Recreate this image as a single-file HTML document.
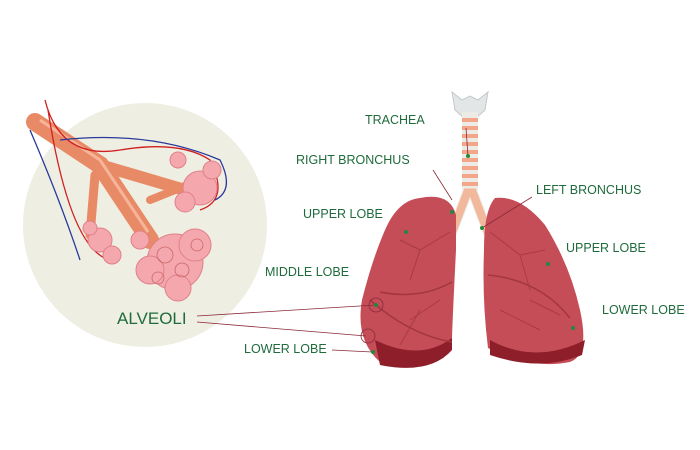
<!DOCTYPE html>
<html><head><meta charset="utf-8"><style>
html,body{margin:0;padding:0;background:#fff;}
svg{display:block;}
text{font-family:"Liberation Sans",sans-serif;fill:#1f6b3c;}
</style></head><body>
<svg width="700" height="450" viewBox="0 0 700 450" xmlns="http://www.w3.org/2000/svg">
<rect width="700" height="450" fill="#fff"/>
<circle cx="145" cy="225" r="122" fill="#efeee3"/>
<g stroke="#e98a66" stroke-linecap="round" fill="none">
<path d="M35 122 L100 165 L150 240" stroke-width="18"/>
<path d="M100 165 L185 190" stroke-width="12"/>
<path d="M95 175 L90 235" stroke-width="9"/>
<path d="M150 200 L205 178" stroke-width="8"/>
</g>
<g stroke="#f6b49a" stroke-width="3" fill="none">
<path d="M40 120 L100 160 L148 232"/>
</g>
<g fill="none" stroke-width="1.3">
<path d="M45 100 Q60 160 120 150 T210 160 Q230 200 200 210" stroke="#d02020"/>
<path d="M48 110 Q70 250 110 260" stroke="#d02020"/>
<path d="M30 130 Q60 200 80 260" stroke="#2a3a9a"/>
<path d="M60 140 Q150 130 220 160 Q235 190 215 200" stroke="#2a3a9a"/>
</g>
<g fill="#f4a8ae" stroke="#e07f88" stroke-width="1">
<circle cx="175" cy="262" r="28"/><circle cx="195" cy="245" r="16"/><circle cx="150" cy="270" r="14"/><circle cx="178" cy="288" r="13"/>
<circle cx="200" cy="188" r="17"/><circle cx="185" cy="202" r="10"/><circle cx="178" cy="160" r="8"/><circle cx="212" cy="170" r="9"/>
<circle cx="100" cy="240" r="12"/><circle cx="112" cy="255" r="9"/><circle cx="90" cy="228" r="7"/>
<circle cx="140" cy="240" r="9"/>
</g>
<g fill="none" stroke="#c66" stroke-width="0.8">
<circle cx="165" cy="255" r="8"/><circle cx="182" cy="270" r="7"/><circle cx="197" cy="245" r="6"/><circle cx="158" cy="278" r="6"/>
</g>
<path d="M452 92 L462 100 L470 96 L478 100 L488 92 L485 110 L476 118 L464 118 L455 110 Z" fill="#e3e6e6" stroke="#c4c9c9"/>
<rect x="462" y="112" width="16" height="78" fill="#ecebe6"/>
<g stroke="#f2a68a" stroke-width="4">
<line x1="462" y1="120" x2="478" y2="120"/><line x1="462" y1="128" x2="478" y2="128"/><line x1="462" y1="136" x2="478" y2="136"/><line x1="462" y1="144" x2="478" y2="144"/><line x1="462" y1="152" x2="478" y2="152"/><line x1="462" y1="160" x2="478" y2="160"/><line x1="462" y1="168" x2="478" y2="168"/><line x1="462" y1="176" x2="478" y2="176"/><line x1="462" y1="184" x2="478" y2="184"/>
</g>
<path d="M464 188 L446 236 L454 240 L470 198 L486 240 L494 236 L476 188 Z" fill="#f2b89c" stroke="#ecebe6"/>
<path d="M420 198 Q450 192 456 215 L456 250 Q452 330 452 340 Q430 372 380 362 Q355 340 362 300 Q372 260 385 230 Q398 200 420 198 Z" fill="#c44d58"/>
<path d="M375 340 Q420 362 452 338 L452 350 Q430 375 380 365 Z" fill="#8d1e2a"/>
<path d="M380 292 Q420 300 452 282 M370 300 Q410 335 452 342" stroke="#a33640" stroke-width="1.5" fill="none"/>
<path d="M495 198 Q520 195 545 225 Q570 265 580 310 Q590 355 570 362 Q530 370 488 348 Q482 300 484 250 Q484 210 495 198 Z" fill="#c44d58"/>
<path d="M490 340 Q535 365 585 340 L582 355 Q540 372 490 355 Z" fill="#8d1e2a"/>
<path d="M488 275 Q540 280 570 318" stroke="#a33640" stroke-width="1.5" fill="none"/>
<g stroke="#a33640" stroke-width="1" fill="none" opacity="0.8">
<path d="M450 232 L420 250 L400 240 M420 250 L410 280 M440 300 L410 320 M420 310 L400 345"/>
<path d="M490 232 L520 255 L545 250 M520 255 L530 290 M500 310 L540 330 M530 300 L560 315"/>
</g>
<g stroke="#8a2a3a" stroke-width="0.8" fill="none">
<line x1="197" y1="316" x2="376" y2="305"/>
<line x1="197" y1="322" x2="366" y2="336"/>
<line x1="332" y1="350" x2="372" y2="352"/>
<circle cx="376" cy="305" r="7"/><circle cx="368" cy="336" r="7"/>
<line x1="433" y1="170" x2="452" y2="200"/>
<line x1="466" y1="128" x2="468" y2="156"/>
<line x1="532" y1="197" x2="482" y2="228"/>
</g>
<g fill="#1f8a3c">
<circle cx="468" cy="156" r="2"/><circle cx="452" cy="212" r="2"/><circle cx="482" cy="228" r="2"/>
<circle cx="406" cy="232" r="2"/><circle cx="548" cy="264" r="2"/><circle cx="573" cy="328" r="2"/>
<circle cx="376" cy="305" r="2"/><circle cx="373" cy="352" r="2"/>
</g>
<g font-size="12.5">
<text x="365" y="124">TRACHEA</text>
<text x="296" y="164">RIGHT BRONCHUS</text>
<text x="536" y="194">LEFT BRONCHUS</text>
<text x="303" y="218">UPPER LOBE</text>
<text x="566" y="252">UPPER LOBE</text>
<text x="265" y="276">MIDDLE LOBE</text>
<text x="602" y="314">LOWER LOBE</text>
<text x="244" y="353">LOWER LOBE</text>
</g>
<text x="117" y="324" font-size="17">ALVEOLI</text>
</svg>
</body></html>
